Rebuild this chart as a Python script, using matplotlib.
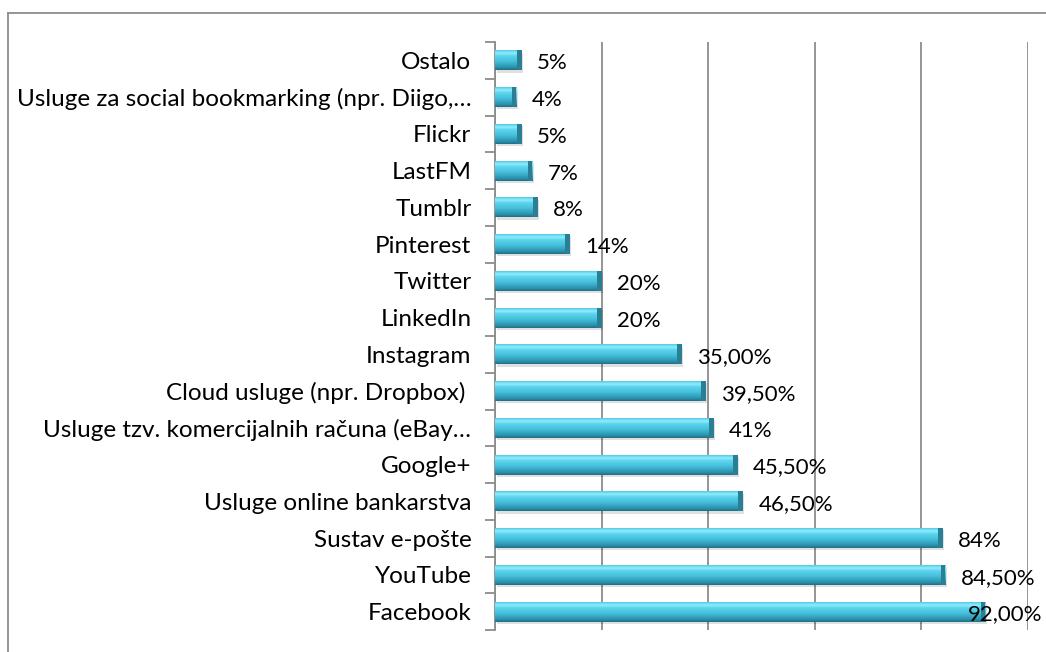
import numpy as np
import matplotlib.pyplot as plt
from matplotlib.colors import LinearSegmentedColormap
from matplotlib.lines import Line2D

# categories top to bottom
categories = ["Ostalo", "Usluge za social bookmarking (npr. Diigo,\u2026",
              "Flickr", "LastFM", "Tumblr", "Pinterest", "Twitter", "LinkedIn",
              "Instagram", "Cloud usluge (npr. Dropbox) ",
              "Usluge tzv. komercijalnih ra\u010duna (eBay\u2026",
              "Google+", "Usluge online bankarstva", "Sustav e-po\u0161te",
              "YouTube", "Facebook"]
values = [5, 4, 5, 7, 8, 14, 20, 20, 35, 39.5, 41, 45.5, 46.5, 84, 84.5, 92]
value_labels = ["5%", "4%", "5%", "7%", "8%", "14%", "20%", "20%", "35,00%",
                "39,50%", "41%", "45,50%", "46,50%", "84%", "84,50%", "92,00%"]

plt.rcParams['font.family'] = ['Lato', 'DejaVu Sans']

W, H = 1046, 652
fig = plt.figure(figsize=(W / 100, H / 100), dpi=100)
ax = fig.add_axes([495 / W, 1 - 630 / H, (1028 - 495) / W, (630 - 42) / H])

n = len(categories)
ypos = np.arange(n)
bh = 0.54

# bevel look: dark bottom, cyan middle, light top
bar_cmap = LinearSegmentedColormap.from_list(
    "bev", [(0.0, "#1f6f82"), (0.12, "#2b90ab"), (0.45, "#46c0dc"),
            (0.72, "#5dd5ee"), (0.86, "#90ecfc"), (1.0, "#52cbe6")])
grad = np.linspace(0, 1, 64).reshape(-1, 1)

for y, v in zip(ypos, values):
    # soft shadow
    ax.add_patch(plt.Rectangle((0.3, y - bh / 2 + 0.06), v, bh, color="#000000",
                               alpha=0.12, lw=0, zorder=2))
    ax.imshow(grad, cmap=bar_cmap, aspect="auto", origin="lower",
              extent=[0, v, y + bh / 2, y - bh / 2], zorder=3)
    # darker right end cap
    ax.add_patch(plt.Rectangle((v - 0.9, y - bh / 2), 0.9, bh, color="#2a7f95",
                               lw=0, zorder=4))

for y, v, lab in zip(ypos, values, value_labels):
    ax.text(min(v + 2.9, 88.8), y + 0.08, lab, va="center", ha="left",
            fontsize=16, color="black", zorder=5, clip_on=False)

ax.set_xlim(0, 100)
ax.set_ylim(n - 0.5, -0.5)
ax.set_xticks([0, 20, 40, 60, 80, 100])
ax.set_xticklabels([])
ax.tick_params(axis="x", length=0)
ax.grid(axis="x", color="#8c8c8c", lw=1.3, zorder=0)
ax.set_axisbelow(True)

ax.set_yticks(ypos)
ax.set_yticklabels(categories, fontsize=17.5)
ax.set_yticks(np.arange(-0.5, n, 1), minor=True)
ax.tick_params(axis="y", which="major", length=0, pad=17)
ax.tick_params(axis="y", which="minor", length=7, width=1.3, color="#8c8c8c")

for s in ["top", "right", "bottom"]:
    ax.spines[s].set_visible(False)
ax.spines["left"].set_color("#8c8c8c")
ax.spines["left"].set_linewidth(1.3)

# outer chart frame
fig.add_artist(Line2D([8 / W, 1], [1 - 13 / H, 1 - 13 / H], color="#8c8c8c", lw=1.3))
fig.add_artist(Line2D([8 / W, 8 / W], [1 - 13 / H, 0], color="#8c8c8c", lw=1.3))

fig.savefig("out.png", dpi=100)
